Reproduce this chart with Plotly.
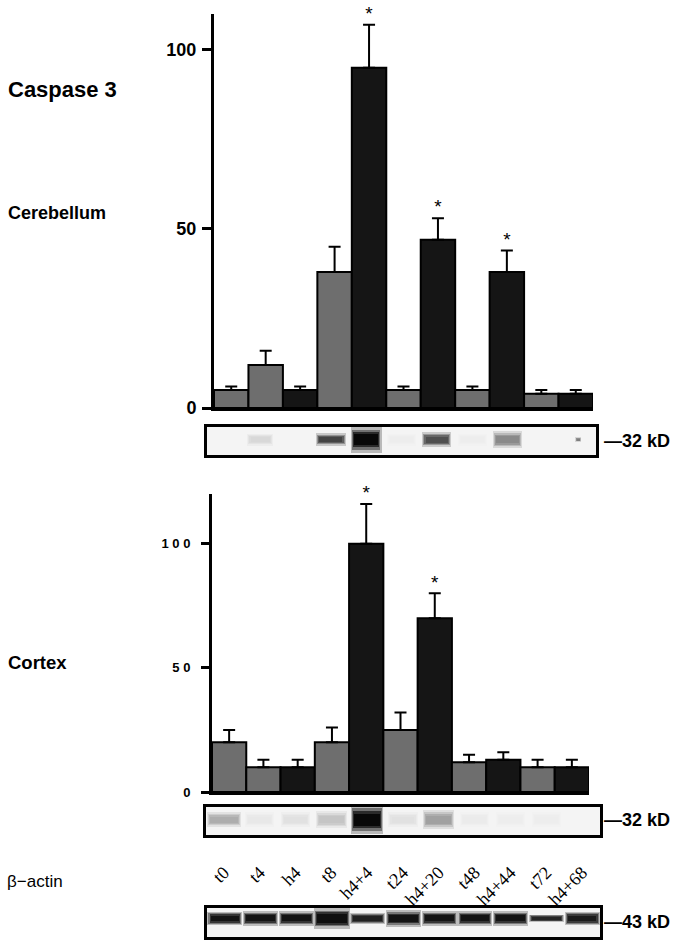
import plotly.graph_objects as go

# ---------------- data ----------------
lanes = ["t0", "t4", "h4", "t8", "h4+4", "t24", "h4+20", "t48", "h4+44", "t72", "h4+68"]
groups = ["t", "t", "h", "t", "h", "t", "h", "t", "h", "t", "h"]   # t = control (grey), h = hypoxia (black)

cereb_vals = [5, 12, 5, 38, 95, 5, 47, 5, 38, 4, 4]
cereb_err = [1, 4, 1, 7, 12, 1, 6, 1, 6, 1, 1]
cereb_sig = [0, 0, 0, 0, 1, 0, 1, 0, 1, 0, 0]

cortex_vals = [20, 10, 10, 20, 100, 25, 70, 12, 13, 10, 10]
cortex_err = [5, 3, 3, 6, 16, 7, 10, 3, 3, 3, 3]
cortex_sig = [0, 0, 0, 0, 1, 0, 1, 0, 0, 0, 0]

# western blot bands: intensity (0 = none, 1 = saturated), thickness and width (fractions of strip / lane)
cereb_band = [0.0, 0.12, 0.0, 0.75, 1.0, 0.03, 0.7, 0.03, 0.45, 0.0, 0.5]
cereb_thick = [0.25, 0.25, 0.25, 0.26, 0.55, 0.25, 0.3, 0.25, 0.35, 0.25, 0.1]
cereb_width = [0.7, 0.6, 0.7, 0.72, 0.75, 0.7, 0.7, 0.7, 0.7, 0.7, 0.12]
cortex_band = [0.3, 0.05, 0.08, 0.2, 1.0, 0.08, 0.35, 0.04, 0.03, 0.03, 0.0]
cortex_thick = [0.3, 0.3, 0.3, 0.35, 0.62, 0.3, 0.4, 0.3, 0.3, 0.3, 0.3]
cortex_width = [0.85, 0.7, 0.7, 0.75, 0.78, 0.7, 0.75, 0.7, 0.7, 0.7, 0.7]
actin_band = [0.95, 0.95, 0.95, 0.97, 0.9, 0.95, 0.95, 0.95, 0.95, 0.88, 0.92]
actin_thick = [0.28, 0.3, 0.3, 0.42, 0.22, 0.34, 0.3, 0.3, 0.3, 0.16, 0.28]
actin_width = [0.86, 0.86, 0.86, 0.9, 0.86, 0.88, 0.86, 0.86, 0.86, 0.86, 0.86]

y_ticks_top = [0, 50, 100]
y_ticktext_top = ["0", "50", "100"]
y_ticks_bot = [0, 50, 100]
y_ticktext_bot = ["0", "5 0", "1 0 0"]

# ---------------- styling helpers ----------------
W, H = 685, 941          # reference picture size (layout is expressed in its pixels)
FIG_H = 951              # figure height actually written
def px_x(p):
    return p / W
def px_y(p):
    return 1 - p / H

GREY = "#6e6e6e"
BLACK = "#151515"
BLOT_BG = 244
colors = [GREY if g == "t" else BLACK for g in groups]
xs = list(range(len(lanes)))

fig = go.Figure()

def add_bars(vals, errs, sig, xa, ya):
    fig.add_trace(go.Bar(
        x=xs, y=vals, xaxis=xa, yaxis=ya,
        marker=dict(color=colors, line=dict(color="black", width=2)),
        error_y=dict(type="data", array=errs, arrayminus=[0] * len(errs), symmetric=False,
                     color="black", thickness=2, width=6),
        showlegend=False, hoverinfo="skip"))
    sx = [x for x, s in zip(xs, sig) if s]
    sy = [v + e for v, e, s in zip(vals, errs, sig) if s]
    fig.add_trace(go.Scatter(
        x=sx, y=sy, xaxis=xa, yaxis=ya, mode="text", text=["*"] * len(sx),
        textposition="top center", textfont=dict(size=19, color="black", family="Arial"),
        cliponaxis=False, showlegend=False, hoverinfo="skip"))

def grey_of(i, bg=BLOT_BG):
    v = int(round(bg - i * (bg - 8)))
    return f"rgb({v},{v},{v})"

def add_blot(inten, thick, widths, center, xa, ya):
    # layered bars give a soft edge to each band
    for tf, wf, inf in [(1.7, 0.12, 0.25), (1.3, 0.06, 0.55), (1.0, 0.0, 0.85), (0.7, -0.06, 1.0)]:
        fig.add_trace(go.Bar(
            x=xs, y=[t * tf for t in thick], base=[center - t * tf / 2 for t in thick],
            width=[max(w + wf * min(1, w * 3), 0.05) for w in widths], xaxis=xa, yaxis=ya,
            marker=dict(color=[grey_of(i * inf) for i in inten], line=dict(width=0)),
            showlegend=False, hoverinfo="skip"))

add_bars(cereb_vals, cereb_err, cereb_sig, "x", "y")
add_bars(cortex_vals, cortex_err, cortex_sig, "x3", "y3")
add_blot(cereb_band, cereb_thick, cereb_width, 0.55, "x2", "y2")
add_blot(cortex_band, cortex_thick, cortex_width, 0.55, "x4", "y4")
add_blot(actin_band, actin_thick, actin_width, 0.64, "x5", "y5")

bar_x = dict(range=[-0.5, 10.5], showline=True, linecolor="black", linewidth=3,
             showticklabels=False, ticks="", showgrid=False, zeroline=False, fixedrange=True)
blot_x = dict(range=[-0.5, 10.5], showline=True, mirror=True, linecolor="black", linewidth=3,
              showticklabels=False, ticks="", showgrid=False, zeroline=False)
blot_y = dict(range=[0, 1], showline=True, mirror=True, linecolor="black", linewidth=3,
              showticklabels=False, ticks="", showgrid=False, zeroline=False)

fig.update_layout(
    width=W, height=FIG_H, margin=dict(l=0, r=0, t=0, b=0),
    paper_bgcolor="white", plot_bgcolor="white",
    barmode="overlay", bargap=0,
    font=dict(family="Arial, Liberation Sans, sans-serif", color="black"),
    xaxis=dict(bar_x, domain=[px_x(214), px_x(593)], anchor="y"),
    yaxis=dict(domain=[px_y(408), px_y(14)], range=[0, 110], anchor="x",
               tickvals=y_ticks_top, ticktext=y_ticktext_top,
               showline=True, linecolor="black", linewidth=3,
               ticks="outside", ticklen=9, tickwidth=3, tickcolor="black",
               tickfont=dict(size=18, family="Arial", weight="bold"),
               ticklabelstandoff=2,
               showgrid=False, zeroline=False),
    xaxis2=dict(blot_x, domain=[px_x(207), px_x(596)], anchor="y2"),
    yaxis2=dict(blot_y, domain=[px_y(455), px_y(427)], anchor="x2"),
    xaxis3=dict(bar_x, domain=[px_x(212), px_x(589)], anchor="y3"),
    yaxis3=dict(domain=[px_y(792), px_y(494)], range=[0, 120], anchor="x3",
                tickvals=y_ticks_bot, ticktext=y_ticktext_bot,
                showline=True, linecolor="black", linewidth=3,
                ticks="outside", ticklen=8, tickwidth=3, tickcolor="black",
                tickfont=dict(size=13, family="Arial", weight="bold"),
                ticklabelstandoff=8,
                showgrid=False, zeroline=False),
    xaxis4=dict(blot_x, domain=[px_x(206), px_x(600)], anchor="y4",
                showticklabels=True, tickvals=xs, ticktext=lanes, tickangle=-45,
                ticks="outside", ticklen=17, tickcolor="rgba(0,0,0,0)",
                tickfont=dict(size=18, family="Liberation Serif, Times New Roman, serif")),
    yaxis4=dict(blot_y, domain=[px_y(835), px_y(807)], anchor="x4"),
    xaxis5=dict(blot_x, domain=[px_x(207), px_x(600)], anchor="y5"),
    yaxis5=dict(blot_y, domain=[px_y(937), px_y(908)], anchor="x5"),
)

# light membrane background behind each blot strip
bgc = f"rgb({BLOT_BG},{BLOT_BG},{BLOT_BG})"
for xa, ya in [("x2", "y2"), ("x4", "y4"), ("x5", "y5")]:
    fig.add_shape(type="rect", xref=f"{xa} domain", yref=f"{ya} domain",
                  x0=0, x1=1, y0=0, y1=1, fillcolor=bgc, line=dict(width=0), layer="below")

def label(text, x, y, size, bold=True, family="Arial"):
    fig.add_annotation(text=text, x=px_x(x), y=px_y(y), xref="paper", yref="paper",
                       xanchor="left", yanchor="middle", showarrow=False,
                       font=dict(size=size, family=family, color="black",
                                 weight="bold" if bold else "normal"))

label("Caspase 3", 6, 89, 22)
label("Cerebellum", 6, 213, 18)
label("Cortex", 6, 662, 18.5)
label("β−actin", 5, 881, 17, bold=False)
label("—32 kD", 602, 441, 18)
label("—32 kD", 602, 820, 18)
label("—43 kD", 602, 922, 18)

post = ("document.documentElement.style.margin='0';document.body.style.margin='0';"
        "document.documentElement.style.overflow='hidden';document.body.style.overflow='hidden';")
fig.write_html("out.html", config={"displayModeBar": False, "staticPlot": True}, post_script=post)
